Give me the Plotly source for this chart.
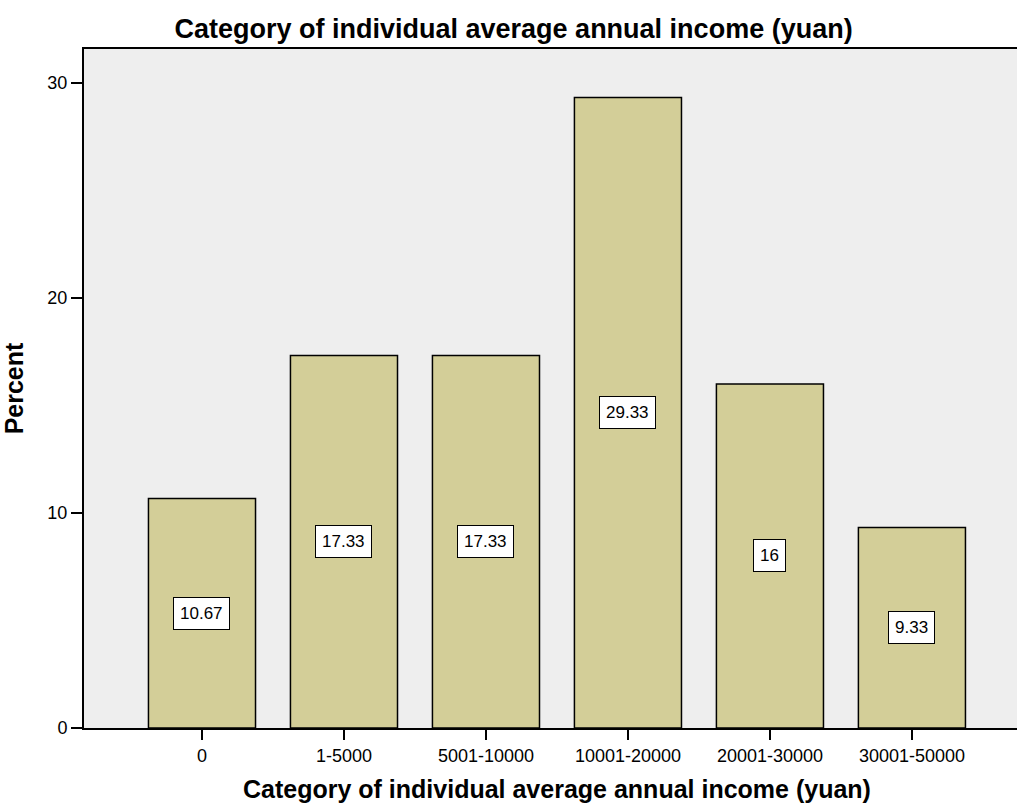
import plotly.graph_objects as go

categories = ["0", "1-5000", "5001-10000", "10001-20000", "20001-30000", "30001-50000"]
percent = [10.67, 17.33, 17.33, 29.33, 16, 9.33]
label_text = ["10.67", "17.33", "17.33", "29.33", "16", "9.33"]
y_ticks = [0, 10, 20, 30]

title_text = "Category of individual average annual income (yuan)"
font_family = "Liberation Sans, Arial, sans-serif"

fig = go.Figure()
fig.add_trace(go.Bar(
    x=list(range(len(categories))),
    y=percent,
    width=0.754,
    marker=dict(color="#d3ce98", line=dict(color="#000000", width=1.5)),
    hoverinfo="skip",
))

# value boxes at the middle of each bar
for i, (v, t) in enumerate(zip(percent, label_text)):
    fig.add_annotation(
        x=i, y=v / 2, text=t, showarrow=False,
        font=dict(family=font_family, size=17, color="#000000"),
        bgcolor="#ffffff", bordercolor="#000000", borderwidth=1, borderpad=6,
    )

# x-axis title, centred under the full plotting region
fig.add_annotation(
    x=0.507, y=0, xref="paper", yref="paper", yanchor="middle",
    yshift=-61, text="<b>" + title_text + "</b>", showarrow=False,
    font=dict(family=font_family, size=25, color="#000000"),
)

fig.update_layout(
    width=1017, height=805,
    margin=dict(l=84, r=0, t=49, b=77),
    paper_bgcolor="#ffffff", plot_bgcolor="#eeeeee",
    showlegend=False,
    title=dict(text="<b>" + title_text + "</b>", x=0.505, xanchor="center",
               y=0.965, yanchor="middle",
               font=dict(family=font_family, size=27, color="#000000")),
    xaxis=dict(
        range=[-0.831, 5.74],
        tickmode="array", tickvals=list(range(len(categories))), ticktext=categories,
        ticks="outside", ticklen=10, tickwidth=2, tickcolor="#000000",
        showline=True, linecolor="#000000", linewidth=2, mirror=True,
        showgrid=False, zeroline=False,
        tickfont=dict(family=font_family, size=18, color="#000000"),
    ),
    yaxis=dict(
        range=[0, 31.58],
        tickmode="array", tickvals=y_ticks, ticktext=[str(t) for t in y_ticks],
        ticks="outside", ticklen=11, tickwidth=2, tickcolor="#000000",
        showline=True, linecolor="#000000", linewidth=2,
        showgrid=False, zeroline=False,
        tickfont=dict(family=font_family, size=18, color="#000000"),
        title=dict(text="<b>Percent</b>", standoff=28,
                   font=dict(family=font_family, size=25, color="#000000")),
    ),
)

fig.write_html("out.html")
